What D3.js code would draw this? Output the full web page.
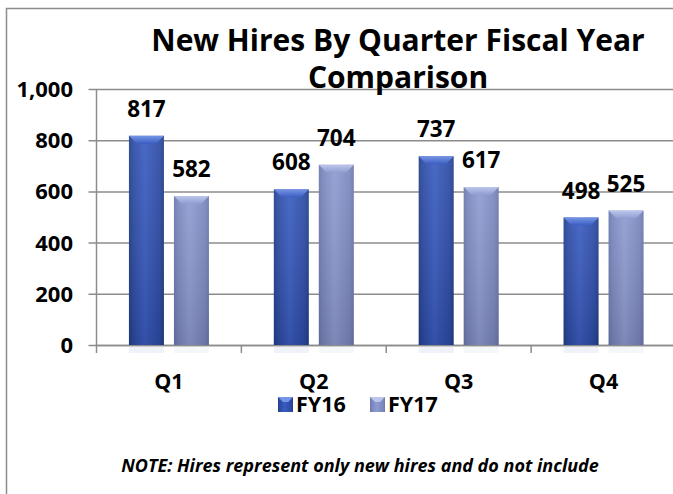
<!DOCTYPE html>
<html>
<head>
<meta charset="utf-8">
<script src="https://cdn.jsdelivr.net/npm/d3@7/dist/d3.min.js"></script>
<style>
  html, body { margin: 0; padding: 0; background: #fff; }
  svg { display: block; }
  text { font-family: "Open Sans", "Noto Sans", sans-serif; font-weight: 700; fill: #000; }
</style>
</head>
<body>
<svg id="chart" width="673" height="494"></svg>
<script>
// Quarterly new hires, two fiscal years
const quarters = ["Q1", "Q2", "Q3", "Q4"];
const seriesNames = ["FY16", "FY17"];
const fy16 = [817, 608, 737, 498];
const fy17 = [582, 704, 617, 525];
const yTicks = [0, 200, 400, 600, 800, 1000];
const titleLines = ["New Hires By Quarter Fiscal Year", "Comparison"];
const noteText = "NOTE: Hires represent only new hires and do not include";

const W = 673, H = 494;
const margin = { left: 96.5, right: -3, top: 89, bottom: H - 345 };

const svg = d3.select("#chart");

// Bar colours: darker edges, brighter centre, light bevel on top
const palette = {
  FY16: { edge: "#213e88", mid: "#3a5cc0", light: "#7695e6", side: "#2b4aa3" },
  FY17: { edge: "#6a77ac", mid: "#8e9bcf", light: "#bcc6ec", side: "#7a87bd" }
};

const defs = svg.append("defs");
seriesNames.forEach(name => {
  const p = palette[name];
  const g = defs.append("linearGradient").attr("id", "body-" + name)
    .attr("x1", "0").attr("x2", "1").attr("y1", "0").attr("y2", "0");
  g.append("stop").attr("offset", "0").attr("stop-color", p.edge);
  g.append("stop").attr("offset", "0.12").attr("stop-color", p.side);
  g.append("stop").attr("offset", "0.45").attr("stop-color", p.mid);
  g.append("stop").attr("offset", "0.88").attr("stop-color", p.side);
  g.append("stop").attr("offset", "1").attr("stop-color", p.edge);
  const v = defs.append("linearGradient").attr("id", "shade-" + name)
    .attr("x1", "0").attr("x2", "0").attr("y1", "0").attr("y2", "1");
  v.append("stop").attr("offset", "0").attr("stop-color", "#fff").attr("stop-opacity", 0.08);
  v.append("stop").attr("offset", "1").attr("stop-color", "#000").attr("stop-opacity", 0.12);
  const b = defs.append("linearGradient").attr("id", "bevel-" + name)
    .attr("x1", "0").attr("x2", "0").attr("y1", "0").attr("y2", "1");
  b.append("stop").attr("offset", "0").attr("stop-color", p.light);
  b.append("stop").attr("offset", "1").attr("stop-color", p.mid);
});

// Outer chart frame
svg.append("rect")
  .attr("x", 6.5).attr("y", 8.5).attr("width", W + 10).attr("height", H + 10)
  .attr("fill", "none").attr("stroke", "#8c8c8c").attr("stroke-width", 1.5);

const x0 = d3.scaleBand()
  .domain(quarters)
  .range([margin.left, W - margin.right])
  .paddingInner(0).paddingOuter(0);

const y = d3.scaleLinear().domain([0, 1000]).range([H - margin.bottom, margin.top]);

const barW = 35, barGap = 10;
const x1 = d3.scaleOrdinal().domain(seriesNames)
  .range([-(barW + barGap / 2), barGap / 2]);

// Gridlines with outward ticks
const yAxis = svg.append("g")
  .attr("transform", `translate(${margin.left},0)`)
  .call(d3.axisLeft(y).tickValues(yTicks).tickSize(-(W - margin.left - margin.right)).tickSizeOuter(0).tickFormat(""));
yAxis.select(".domain").remove();
yAxis.selectAll(".tick line")
  .attr("x1", -8)
  .attr("stroke", "#8c8c8c").attr("stroke-width", 1.5);

// Y tick labels
svg.append("g").selectAll("text")
  .data(yTicks)
  .join("text")
  .attr("x", 73)
  .attr("y", d => y(d))
  .attr("dy", "0.36em")
  .attr("text-anchor", "end")
  .attr("font-size", 22)
  .text(d => d3.format(",")(d));

// Vertical axis line
svg.append("line")
  .attr("x1", margin.left).attr("x2", margin.left)
  .attr("y1", y(1000)).attr("y2", y(0))
  .attr("stroke", "#8c8c8c").attr("stroke-width", 1.5);

// Category axis
const xAxis = svg.append("g")
  .attr("transform", `translate(0,${y(0)})`)
  .call(d3.axisBottom(x0).tickSize(0).tickFormat(""));
xAxis.select(".domain").attr("stroke", "#8c8c8c").attr("stroke-width", 1.5);
xAxis.selectAll(".tick").remove();
xAxis.selectAll("line.sep")
  .data(quarters.map(q => x0(q)))
  .join("line")
  .attr("class", "sep")
  .attr("x1", d => d).attr("x2", d => d)
  .attr("y1", 0).attr("y2", 8)
  .attr("stroke", "#8c8c8c").attr("stroke-width", 1.5);

// Bars
const rows = quarters.map((q, i) => ({ q, values: [
  { name: "FY16", v: fy16[i] },
  { name: "FY17", v: fy17[i] }
]}));

const groups = svg.append("g").selectAll("g")
  .data(rows)
  .join("g")
  .attr("transform", d => `translate(${x0(d.q) + x0.bandwidth() / 2},0)`);

const bars = groups.selectAll("g.bar")
  .data(d => d.values)
  .join("g")
  .attr("class", "bar");

// faint reflection under the axis
bars.append("rect")
  .attr("x", d => x1(d.name))
  .attr("y", y(0) + 2)
  .attr("width", barW)
  .attr("height", 6)
  .attr("fill", d => palette[d.name].mid)
  .attr("opacity", 0.08);

bars.append("rect")
  .attr("x", d => x1(d.name))
  .attr("y", d => y(d.v))
  .attr("width", barW)
  .attr("height", d => y(0) - y(d.v))
  .attr("fill", d => `url(#body-${d.name})`);

bars.append("rect")
  .attr("x", d => x1(d.name))
  .attr("y", d => y(d.v))
  .attr("width", barW)
  .attr("height", d => y(0) - y(d.v))
  .attr("fill", d => `url(#shade-${d.name})`);

// bevelled top
const bev = 8;
bars.append("path")
  .attr("d", d => {
    const l = x1(d.name), r = l + barW, t = y(d.v);
    return `M${l},${t}L${r},${t}L${r - bev},${t + bev}L${l + bev},${t + bev}Z`;
  })
  .attr("fill", d => `url(#bevel-${d.name})`);

// Value labels
bars.append("text")
  .attr("x", d => x1(d.name) + barW / 2)
  .attr("y", d => y(d.v) - 19)
  .attr("text-anchor", "middle")
  .attr("font-size", 22.5)
  .text(d => d.v);

// Category labels
svg.append("g").selectAll("text")
  .data(quarters)
  .join("text")
  .attr("x", d => x0(d) + x0.bandwidth() / 2)
  .attr("y", 389)
  .attr("text-anchor", "middle")
  .attr("font-size", 21.5)
  .text(d => d);

// Legend
const legend = svg.append("g").attr("transform", "translate(278,397)");
const legendItems = legend.selectAll("g")
  .data(seriesNames)
  .join("g")
  .attr("transform", (d, i) => `translate(${i * 92},0)`);
legendItems.append("rect")
  .attr("width", 15).attr("height", 15)
  .attr("fill", d => `url(#body-${d})`);
legendItems.append("path")
  .attr("d", "M0,0L15,0L10,5L5,5Z")
  .attr("fill", d => palette[d].light);
legendItems.append("text")
  .attr("x", 18).attr("y", 15)
  .attr("font-size", 21.5)
  .text(d => d);

// Title
svg.append("g").selectAll("text")
  .data(titleLines)
  .join("text")
  .attr("x", 398)
  .attr("y", (d, i) => 51 + i * 37)
  .attr("text-anchor", "middle")
  .attr("font-size", 30)
  .text(d => d);

// Footnote
svg.append("text")
  .attr("x", 360)
  .attr("y", 472)
  .attr("text-anchor", "middle")
  .attr("font-size", 18)
  .attr("font-style", "italic")
  .text(noteText);
</script>
</body>
</html>
